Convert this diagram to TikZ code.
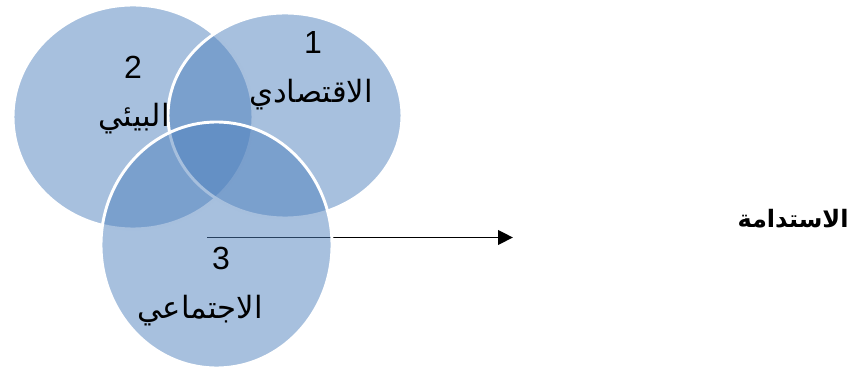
\documentclass[tikz,border=0pt]{standalone}
\usepackage{fontspec}
\setmainfont{Liberation Sans}
\newfontfamily\arabicfont[Script=Arabic]{DejaVu Sans}
\TeXXeTstate=1
\usetikzlibrary{shapes.geometric,arrows.meta}
\definecolor{vennblue}{RGB}{79,129,189}
\tikzset{
  venn/.style={ellipse, inner sep=0pt, fill=vennblue, fill opacity=0.5, draw=white, draw opacity=1, line width=2.2pt},
  numlabel/.style={inner sep=0pt, font=\fontsize{24}{28}\selectfont},
  arlabel/.style={inner sep=0pt, font=\arabicfont\fontsize{23}{27}\selectfont},
  titlelabel/.style={inner sep=0pt, font=\arabicfont\bfseries\fontsize{18}{22}\selectfont},
  arrowline/.style={line width=1.1pt, -{Triangle[length=11.25pt, width=11pt]}}
}
\begin{document}
\begin{tikzpicture}[x=0.75pt, y=-0.75pt]
\useasboundingbox (0,0) rectangle (851,370);
% circle 2 (left)
\node[venn, minimum width=240*0.75pt, minimum height=224*0.75pt] (c2) at (133,117) {};
% circle 1 (right)
\node[venn, minimum width=234*0.75pt, minimum height=205*0.75pt] (c1) at (285,115.5) {};
% arrow
\coordinate (s) at (207,237.5);
\coordinate (e) at (513,237.5);
\draw[arrowline] (s) -- (e);
% circle 3 (bottom)
\node[venn, minimum width=231*0.75pt, minimum height=246*0.75pt] (c3) at (216.5,245) {};
% labels
\node[numlabel] (n1) at (313,42) {1};
\node[arlabel] (t1) at (311,95) {\beginR الاقتصادي\endR};
\node[numlabel] (n2) at (133,67) {2};
\node[arlabel] (t2) at (134,119) {\beginR البيئي\endR};
\node[numlabel] (n3) at (221,258) {3};
\node[arlabel] (t3) at (200,311) {\beginR الاجتماعي\endR};
\node[titlelabel] (title) at (793,219) {\beginR الاستدامة\endR};
\end{tikzpicture}
\end{document}
